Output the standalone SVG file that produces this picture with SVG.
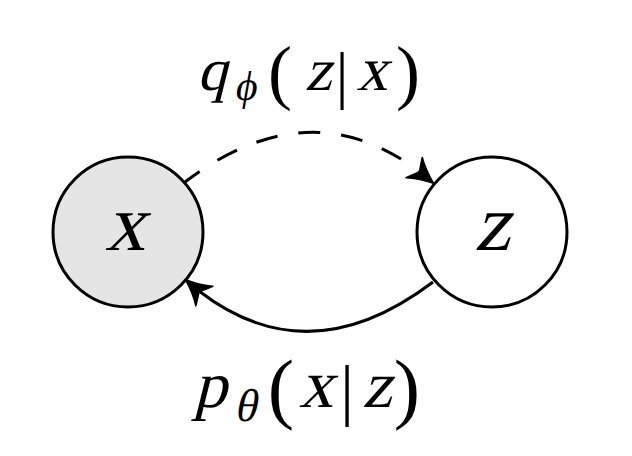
<svg xmlns="http://www.w3.org/2000/svg" width="632" height="456" viewBox="0 0 632 456">
<style>
.node{stroke:#000;stroke-width:3}
.t{font-family:"Liberation Serif","DejaVu Serif",serif;font-style:normal;fill:#000;text-anchor:middle}
.edge{fill:none;stroke:#000;stroke-width:3}
</style>
<defs>
<path id="ah" d="M2,0 C-6,-3 -15,-7 -23,-13 C-20,-7 -18,-3 -16,0 C-18,3 -20,7 -23,13 C-15,7 -6,3 2,0 Z" fill="#000" stroke="#000" stroke-width="1.5" stroke-linejoin="round"/>
</defs>
<rect width="632" height="456" fill="#fff"/>
<g id="connectors">
<path id="enc" class="edge" d="M185,182 Q309,88 420,172" stroke-dasharray="22 21" stroke-dashoffset="4"/>
<use href="#ah" transform="translate(432,182) rotate(39)"/>
<path id="dec" class="edge" d="M433,282 Q309,376 199,291"/>
<use href="#ah" transform="translate(187,281) rotate(221)"/>
</g>
<g id="node-x">
<circle class="node" cx="128" cy="232" r="75" fill="#e5e5e5"/>
<text class="t" transform="translate(125,250) skewX(-14)" font-size="80">x</text>
</g>
<g id="node-z">
<circle class="node" cx="492" cy="232" r="75" fill="#fff"/>
<text class="t" transform="translate(492,250) skewX(-14)" font-size="80">z</text>
</g>
<g id="label-q">
<text class="t" transform="translate(212,90) skewX(-14)" font-size="60">q</text>
<text class="t" transform="translate(245,100) skewX(-10)" font-size="42">ϕ</text>
<text class="t" x="280" y="96" font-size="72">(</text>
<text class="t" transform="translate(318,90) skewX(-14)" font-size="60">z</text>
<text class="t" x="342" y="96" font-size="63">|</text>
<text class="t" transform="translate(372,90) skewX(-14)" font-size="62">x</text>
<text class="t" x="408" y="96" font-size="72">)</text>
</g>
<g id="label-p">
<text class="t" transform="translate(210,407) skewX(-14)" font-size="66">p</text>
<text class="t" transform="translate(245,421) skewX(-12)" font-size="46">θ</text>
<text class="t" x="281" y="414" font-size="79">(</text>
<text class="t" transform="translate(316,407) skewX(-14)" font-size="68">x</text>
<text class="t" x="347" y="413" font-size="68">|</text>
<text class="t" transform="translate(377,407) skewX(-14)" font-size="66">z</text>
<text class="t" x="407" y="414" font-size="79">)</text>
</g>
</svg>
